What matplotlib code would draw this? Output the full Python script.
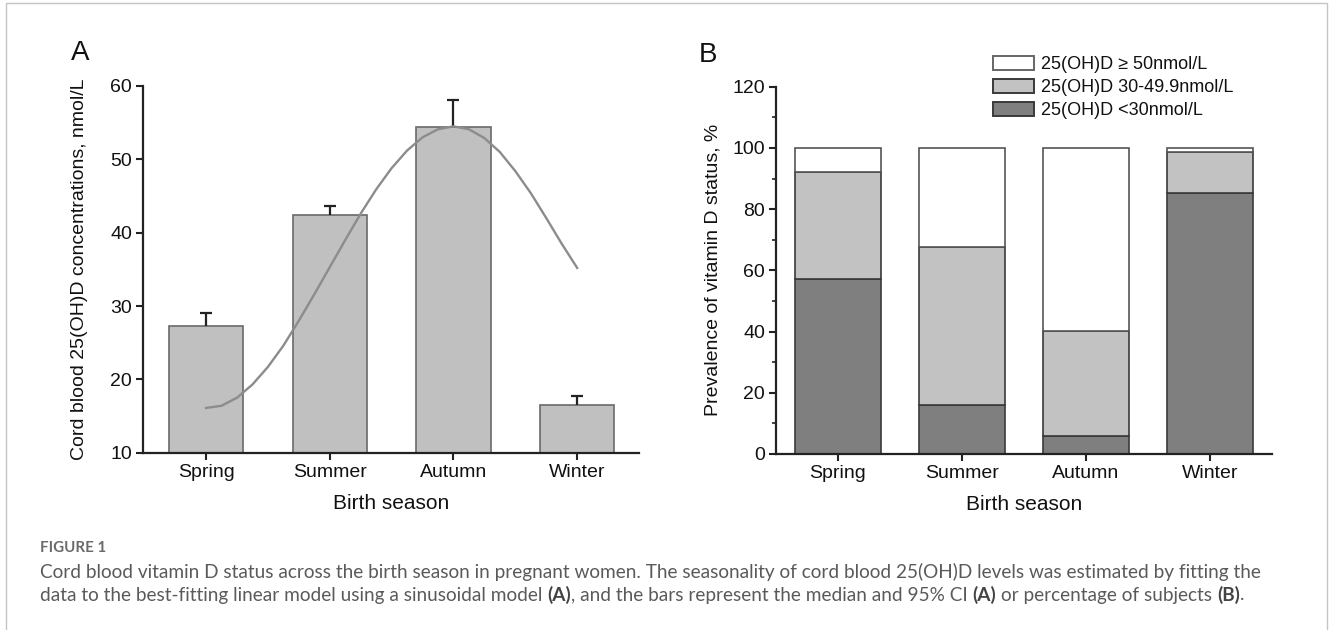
import matplotlib
matplotlib.use('Agg')
import matplotlib.pyplot as plt
from matplotlib.patches import Patch, Rectangle

# ---------------- data ----------------
seasons = ['Spring', 'Summer', 'Autumn', 'Winter']
median_a = [27.3, 42.4, 54.4, 16.5]
ci_upper_a = [29.1, 43.7, 58.1, 17.7]

fit_x = [0.0, 0.125, 0.25, 0.375, 0.5, 0.625, 0.75, 0.875, 1.0, 1.125, 1.25, 1.375,
         1.5, 1.625, 1.75, 1.875, 2.0, 2.125, 2.25, 2.375, 2.5, 2.625, 2.75, 2.875, 3.0]
fit_y = [16.1, 16.4, 17.5, 19.3, 21.7, 24.6, 28.0, 31.6, 35.3, 39.0, 42.6, 45.9,
         48.8, 51.2, 53.0, 54.1, 54.5, 54.1, 52.9, 51.0, 48.4, 45.4, 42.0, 38.5, 35.2]

pct_lt30 = [57.1, 16.1, 5.8, 85.2]
pct_30_50 = [35.0, 51.5, 34.5, 13.6]
pct_ge50 = [7.9, 32.4, 59.7, 1.2]
legend_labels = ['25(OH)D \u2265 50nmol/L', '25(OH)D 30-49.9nmol/L', '25(OH)D <30nmol/L']

caption_title = 'FIGURE 1'
caption_line1 = ('Cord blood vitamin D status across the birth season in pregnant women. '
                 'The seasonality of cord blood 25(OH)D levels was estimated by fitting the')
caption_line2 = [('data to the best-fitting linear model using a sinusoidal model', False),
                 ('(A)', True),
                 (', and the bars represent the median and 95% CI', False),
                 ('(A)', True),
                 ('or percentage of subjects', False),
                 ('(B)', True),
                 ('.', False)]

# ---------------- style ----------------
plt.rcParams['font.family'] = ['Liberation Sans', 'DejaVu Sans']
W, H = 1330, 630
fig = plt.figure(figsize=(W / 100, H / 100), dpi=100)
fig.patch.set_facecolor('white')

TXT = '#111111'
x = list(range(len(seasons)))


def style_axes(ax):
    for s in ['top', 'right']:
        ax.spines[s].set_visible(False)
    for s in ['left', 'bottom']:
        ax.spines[s].set_linewidth(1.6)
        ax.spines[s].set_color('#222222')
    ax.tick_params(axis='both', which='major', direction='out', length=5, width=1.5,
                   color='#222222', labelsize=14, labelcolor=TXT, pad=3)
    ax.tick_params(axis='both', which='minor', direction='out', length=3, width=1.2,
                   color='#222222')


# ---------------- panel A ----------------
axA = fig.add_axes([143 / W, 1 - 452.7 / H, 496 / W, 366.7 / H])
axA.bar(x, median_a, width=0.6, color='#c0c0c0', edgecolor='#6a6a6a', linewidth=1.2, zorder=2)
axA.vlines(x, median_a, ci_upper_a, color='#222222', lw=1.6, zorder=3)
axA.plot(x, ci_upper_a, ls='none', marker='_', markersize=8, markeredgewidth=1.6,
         color='#222222', zorder=3)
axA.plot(fit_x, fit_y, color='#8c8c8c', lw=1.7, zorder=4)
axA.set_xlim(-0.51, 3.5)
axA.set_ylim(10, 60)
axA.set_yticks([10, 20, 30, 40, 50, 60])
axA.set_xticks(x)
axA.set_xticklabels(seasons)
style_axes(axA)
axA.set_ylabel('Cord blood 25(OH)D concentrations, nmol/L', fontsize=14, color=TXT)
axA.set_xlabel('Birth season', fontsize=15, color=TXT)
axA.yaxis.set_label_coords(-0.111, 0.5)
axA.xaxis.set_label_coords(0.5, -0.112)

# ---------------- panel B ----------------
axB = fig.add_axes([776 / W, 1 - 454 / H, 496 / W, 367.3 / H])
edge = '#3a3a3a'
axB.bar(x, pct_lt30, width=0.7, color='#7f7f7f', edgecolor=edge, linewidth=1.2, zorder=2)
bottom2 = pct_lt30
axB.bar(x, pct_30_50, width=0.7, bottom=bottom2, color='#c2c2c2', edgecolor=edge,
        linewidth=1.2, zorder=2)
bottom3 = [a + b for a, b in zip(pct_lt30, pct_30_50)]
axB.bar(x, pct_ge50, width=0.7, bottom=bottom3, color='white', edgecolor='#555555',
        linewidth=1.2, zorder=2)
axB.set_xlim(-0.5, 3.5)
axB.set_ylim(0, 120)
axB.set_yticks(range(0, 121, 20))
axB.set_yticks(range(10, 120, 20), minor=True)
axB.set_xticks(x)
axB.set_xticklabels(seasons)
style_axes(axB)
axB.set_ylabel('Prevalence of vitamin D status, %', fontsize=14, color=TXT)
axB.set_xlabel('Birth season', fontsize=15, color=TXT)
axB.yaxis.set_label_coords(-0.109, 0.5)
axB.xaxis.set_label_coords(0.5, -0.112)

handles = [Patch(facecolor='white', edgecolor='#666666', linewidth=1.4),
           Patch(facecolor='#c2c2c2', edgecolor=edge, linewidth=1.4),
           Patch(facecolor='#7f7f7f', edgecolor=edge, linewidth=1.4)]
axB.legend(handles=handles, labels=legend_labels, loc='upper left',
           bbox_to_anchor=((993 - 776) / 496, (454 - 56) / 367.3), frameon=False,
           borderpad=0, borderaxespad=0, handlelength=2.25, handleheight=0.85,
           handletextpad=0.4, labelspacing=0.3, fontsize=13, labelcolor=TXT)

# panel letters
fig.text(80 / W, 1 - 53 / H, 'A', fontsize=20, ha='center', va='center', color=TXT)
fig.text(708 / W, 1 - 55 / H, 'B', fontsize=20, ha='center', va='center', color=TXT)

# ---------------- caption ----------------
cap_family = ['Lato', 'DejaVu Sans']
cap_color = '#5a5a5a'
renderer = fig.canvas.get_renderer()

t1 = fig.text(40 / W, 1 - 572 / H, caption_line1, fontsize=12, family=cap_family,
              color=cap_color, ha='left', va='center')
w1 = t1.get_window_extent(renderer).width
fs = 12 * (1215 / w1)
t1.set_fontsize(fs)

fig.text(40 / W, 1 - 548 / H, caption_title, fontsize=fs * 0.8, family=cap_family,
         color='#6a6a6a', weight='bold', ha='left', va='center')

probe_a = fig.text(0, 0, 'a a', fontsize=fs, family=cap_family)
probe_b = fig.text(0, 0, 'aa', fontsize=fs, family=cap_family)
space_w = probe_a.get_window_extent(renderer).width - probe_b.get_window_extent(renderer).width
probe_a.remove()
probe_b.remove()

xpos = 40.0
for i, (chunk, bold) in enumerate(caption_line2):
    if i > 0 and not chunk.startswith(',') and not chunk.startswith('.'):
        xpos += space_w
    t = fig.text(xpos / W, 1 - 595 / H, chunk, fontsize=fs, family=cap_family,
                 color=('#444444' if bold else cap_color),
                 weight=('bold' if bold else 'normal'), ha='left', va='center')
    xpos = t.get_window_extent(renderer).x1

# outer frame
fig.patches.append(Rectangle((6 / W, -0.01), (1327 - 6) / W, (630 - 3) / H + 0.01,
                             transform=fig.transFigure, fill=False,
                             edgecolor='#c4c4c4', linewidth=1.0))

fig.savefig('out.png', dpi=100, facecolor='white')
